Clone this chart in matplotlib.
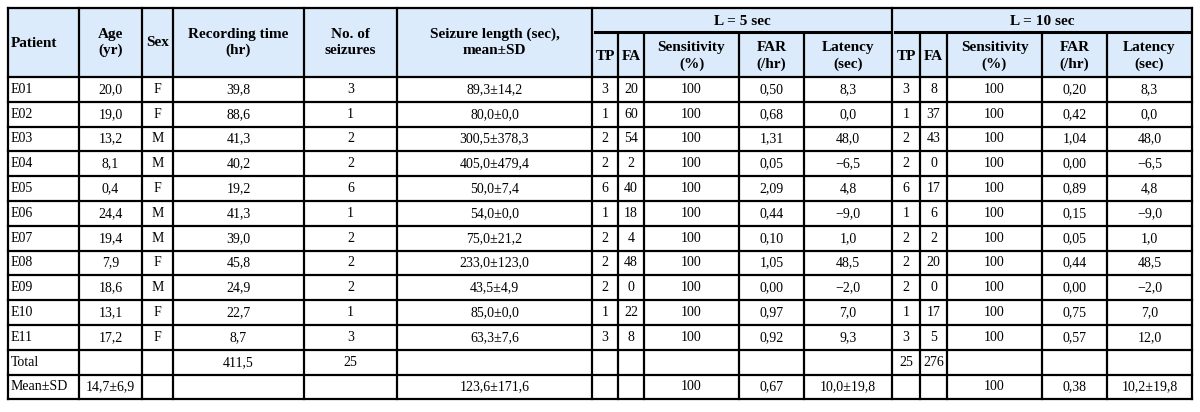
import matplotlib.pyplot as plt

# column edges (pixels) and row layout
col_x = [8, 79, 142, 173, 304, 397, 592, 618, 644, 739, 804, 892, 920, 947, 1042, 1107, 1192]
top = 8
l_line = 33
head_bot = 77
row_h = 24.8

patients = ["E01", "E02", "E03", "E04", "E05", "E06", "E07", "E08", "E09", "E10", "E11"]
age = ["20,0", "19,0", "13,2", "8,1", "0,4", "24,4", "19,4", "7,9", "18,6", "13,1", "17,2"]
sex = ["F", "F", "M", "M", "F", "M", "M", "F", "M", "F", "F"]
rec_time = ["39,8", "88,6", "41,3", "40,2", "19,2", "41,3", "39,0", "45,8", "24,9", "22,7", "8,7"]
n_seiz = ["3", "1", "2", "2", "6", "1", "2", "2", "2", "1", "3"]
seiz_len = ["89,3±14,2", "80,0±0,0", "300,5±378,3", "405,0±479,4", "50,0±7,4", "54,0±0,0",
            "75,0±21,2", "233,0±123,0", "43,5±4,9", "85,0±0,0", "63,3±7,6"]
tp5 = ["3", "1", "2", "2", "6", "1", "2", "2", "2", "1", "3"]
fa5 = ["20", "60", "54", "2", "40", "18", "4", "48", "0", "22", "8"]
sens5 = ["100"] * 11
far5 = ["0,50", "0,68", "1,31", "0,05", "2,09", "0,44", "0,10", "1,05", "0,00", "0,97", "0,92"]
lat5 = ["8,3", "0,0", "48,0", "−6,5", "4,8", "−9,0", "1,0", "48,5", "−2,0", "7,0", "9,3"]
tp10 = ["3", "1", "2", "2", "6", "1", "2", "2", "2", "1", "3"]
fa10 = ["8", "37", "43", "0", "17", "6", "2", "20", "0", "17", "5"]
sens10 = ["100"] * 11
far10 = ["0,20", "0,42", "1,04", "0,00", "0,89", "0,15", "0,05", "0,44", "0,00", "0,75", "0,57"]
lat10 = ["8,3", "0,0", "48,0", "−6,5", "4,8", "−9,0", "1,0", "48,5", "−2,0", "7,0", "12,0"]

total_row = ["Total", "", "", "411,5", "25", "", "", "", "", "", "", "25", "276", "", "", ""]
mean_row = ["Mean±SD", "14,7±6,9", "", "", "", "123,6±171,6", "", "", "100", "0,67", "10,0±19,8",
            "", "", "100", "0,38", "10,2±19,8"]

head_main = ["Patient", "Age\n(yr)", "Sex", "Recording time\n(hr)", "No. of\nseizures",
             "Seizure length (sec),\nmean±SD"]
head_sub = ["TP", "FA", "Sensitivity\n(%)", "FAR\n(/hr)", "Latency\n(sec)"]
groups = ["L = 5 sec", "L = 10 sec"]

columns = [patients, age, sex, rec_time, n_seiz, seiz_len, tp5, fa5, sens5, far5, lat5,
           tp10, fa10, sens10, far10, lat10]
rows = [list(r) for r in zip(*columns)] + [total_row, mean_row]

fig = plt.figure(figsize=(12, 4.12), dpi=100)
ax = fig.add_axes([0, 0, 1, 1])
ax.set_xlim(0, 1200)
ax.set_ylim(412, 0)
ax.axis("off")

serif = "Liberation Serif"
lw = 1.6
head_fill = "#dcebfb"
hfs = 11  # header font size
bfs = 10  # body font size
ls = 1.25

# header background
ax.fill_between([col_x[0], col_x[-1]], top, head_bot, color=head_fill, lw=0)

# header text
for i, txt in enumerate(head_main):
    if i == 0:
        ax.text(col_x[0] + 3, (top + head_bot) / 2 + 1, txt, ha="left", va="center",
                fontsize=hfs, fontweight="bold", family=serif)
    else:
        ax.text((col_x[i] + col_x[i + 1]) / 2, (top + head_bot) / 2, txt, ha="center",
                va="center", fontsize=hfs, fontweight="bold", family=serif, linespacing=ls)
for g, name in enumerate(groups):
    x0 = col_x[6 + 5 * g]
    x1 = col_x[11 + 5 * g]
    ax.text((x0 + x1) / 2, (top + l_line) / 2 + 1, name, ha="center", va="center",
            fontsize=hfs, fontweight="bold", family=serif)
    ax.plot([x0 + 3, x1 - 3], [l_line - 1, l_line - 1], color="black", lw=2.2)
    for j, txt in enumerate(head_sub):
        c = 6 + 5 * g + j
        ax.text((col_x[c] + col_x[c + 1]) / 2, (l_line + head_bot) / 2 + 1, txt, ha="center",
                va="center", fontsize=hfs, fontweight="bold", family=serif, linespacing=ls)

# body text
for r, row in enumerate(rows):
    yc = head_bot + row_h * (r + 0.5)
    for c, txt in enumerate(row):
        if not txt:
            continue
        if c == 0:
            ax.text(col_x[0] + 3, yc, txt, ha="left", va="center", fontsize=bfs, family=serif)
        else:
            ax.text((col_x[c] + col_x[c + 1]) / 2, yc, txt, ha="center", va="center",
                    fontsize=bfs, family=serif)

bottom = head_bot + row_h * len(rows)

# horizontal lines
ax.plot([col_x[0], col_x[-1]], [top, top], color="black", lw=lw)
ax.plot([col_x[0], col_x[-1]], [head_bot, head_bot], color="black", lw=lw)
for r in range(1, len(rows) + 1):
    y = head_bot + row_h * r
    ax.plot([col_x[0], col_x[-1]], [y, y], color="black", lw=lw)

# vertical lines
for i, x in enumerate(col_x):
    y0 = top
    if i in (7, 8, 9, 10, 12, 13, 14, 15):
        y0 = l_line
    ax.plot([x, x], [y0, bottom], color="black", lw=lw)

fig.savefig("out.png", dpi=100)
